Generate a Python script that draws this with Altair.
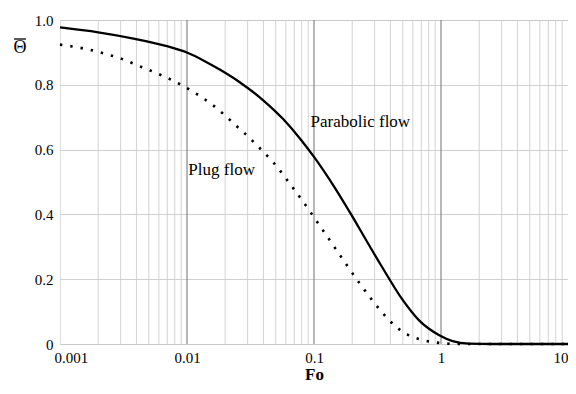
import altair as alt
import pandas as pd

# ---- data ----
parabolic_fo = [0.001, 0.0020, 0.00388, 0.00668, 0.0102, 0.0138, 0.0181, 0.0260, 0.0396,
                0.0569, 0.0769, 0.1010, 0.1406, 0.196, 0.257, 0.337, 0.499, 0.675,
                0.969, 1.233, 1.667, 2.5, 10.0]
parabolic_theta = [0.977, 0.962, 0.942, 0.921, 0.898, 0.873, 0.847, 0.808, 0.753,
                   0.695, 0.636, 0.575, 0.492, 0.400, 0.321, 0.243, 0.136, 0.072,
                   0.027, 0.009, 0.001, 0.0, 0.0]

plug_fo = [0.001, 0.00167, 0.0024, 0.00306, 0.00438, 0.00668, 0.00948, 0.0130, 0.0160,
           0.0192, 0.0245, 0.0311, 0.0373, 0.0475, 0.0662, 0.0842, 0.098, 0.112, 0.128,
           0.149, 0.1736, 0.228, 0.286, 0.369, 0.437, 0.546, 0.675, 0.859, 1.06,
           1.4, 10.0]
plug_theta = [0.924, 0.909, 0.893, 0.880, 0.855, 0.825, 0.795, 0.762, 0.737,
              0.711, 0.673, 0.636, 0.605, 0.562, 0.489, 0.433, 0.396, 0.363, 0.330,
              0.292, 0.254, 0.188, 0.136, 0.084, 0.055, 0.029, 0.015, 0.006, 0.002,
              0.0, 0.0]

x_major = [0.001, 0.01, 0.1, 1, 10]
x_labels = ["0.001", "0.01", "0.1", "1", "10"]
x_minor = [k * m for m in [0.001, 0.01, 0.1, 1] for k in range(2, 10)]
y_ticks = [0, 0.2, 0.4, 0.6, 0.8, 1.0]

label_text = ["Parabolic flow", "Plug flow"]
label_fo = [0.2316, 0.01875]
label_theta = [0.685, 0.538]

y_title = "Θ"

FONT = "Liberation Serif"

par_df = pd.DataFrame({"Fo": parabolic_fo, "theta": parabolic_theta})
plug_df = pd.DataFrame({"Fo": plug_fo, "theta": plug_theta})
minor_df = pd.DataFrame({"Fo": x_minor})
major_df = pd.DataFrame({"Fo": x_major[1:-1]})
lab_df = pd.DataFrame({"text": label_text, "Fo": label_fo, "theta": label_theta})

xscale = alt.Scale(type="log", domain=[0.001, 10], nice=False)
yscale = alt.Scale(domain=[0, 1], nice=False)

label_map = "{" + ",".join(f"'{v}':'{l}'" for v, l in zip(x_major, x_labels)) + "}"

x_axis = alt.Axis(
    title="Fo", values=x_major, grid=False, ticks=False, domain=False,
    labelExpr=f"({label_map})[datum.value] || format(datum.value, '')",
    labelFont=FONT, labelFontSize=15, labelColor="black", labelPadding=6,
    labelFlush=True,
    labelOffset={"condition": {"test": "datum.value < 0.002", "value": -6}, "value": 0},
    titleFont=FONT, titleFontSize=17, titleFontWeight="bold", titleColor="black",
    titlePadding=1,
)
y_axis = alt.Axis(
    title=None, values=y_ticks, grid=True, gridColor="#c4c4c4", gridWidth=0.8,
    ticks=False, domain=False,
    labelExpr="datum.value == 0 ? '0' : format(datum.value, '.1f')",
    labelFont=FONT, labelFontSize=15, labelColor="black", labelPadding=7,
)

minor = alt.Chart(minor_df).mark_rule(color="#c8c8c8", strokeWidth=0.8).encode(
    x=alt.X("Fo:Q", scale=xscale, axis=x_axis)
)
major = alt.Chart(major_df).mark_rule(color="#707070", strokeWidth=1).encode(
    x=alt.X("Fo:Q", scale=xscale)
)
par = alt.Chart(par_df).mark_line(color="black", strokeWidth=2.3, interpolate="monotone").encode(
    x=alt.X("Fo:Q", scale=xscale),
    y=alt.Y("theta:Q", scale=yscale, axis=y_axis),
)
plug = alt.Chart(plug_df).mark_line(color="black", strokeWidth=2.6, strokeDash=[2.4, 8],
                                     interpolate="monotone").encode(
    x=alt.X("Fo:Q", scale=xscale),
    y=alt.Y("theta:Q", scale=yscale),
)
labels = alt.Chart(lab_df).mark_text(font=FONT, fontSize=17, color="black").encode(
    x=alt.X("Fo:Q", scale=xscale),
    y=alt.Y("theta:Q", scale=yscale),
    text="text:N",
)

# y-axis title: upright Theta with an overline, placed left of the axis labels
title_df = pd.DataFrame({"t": [y_title]})
ytitle = alt.Chart(title_df).mark_text(font=FONT, fontSize=18, color="black",
                                       baseline="middle", align="center").encode(
    x=alt.value(-40), y=alt.value(28), text="t:N"
)
ybar = alt.Chart(title_df).mark_rule(color="black", strokeWidth=1.3).encode(
    x=alt.value(-46), x2=alt.value(-34), y=alt.value(19)
)

chart = alt.layer(minor, major, par, plug, labels, ytitle, ybar).properties(
    width=508, height=324,
    autosize=alt.AutoSizeParams(type="none"),
    padding={"left": 52, "top": 12, "right": 0, "bottom": 42},
).configure_view(stroke="black", strokeWidth=1.6).configure(background="white")

chart.save("out.html", embed_options={"renderer": "svg", "actions": False})
